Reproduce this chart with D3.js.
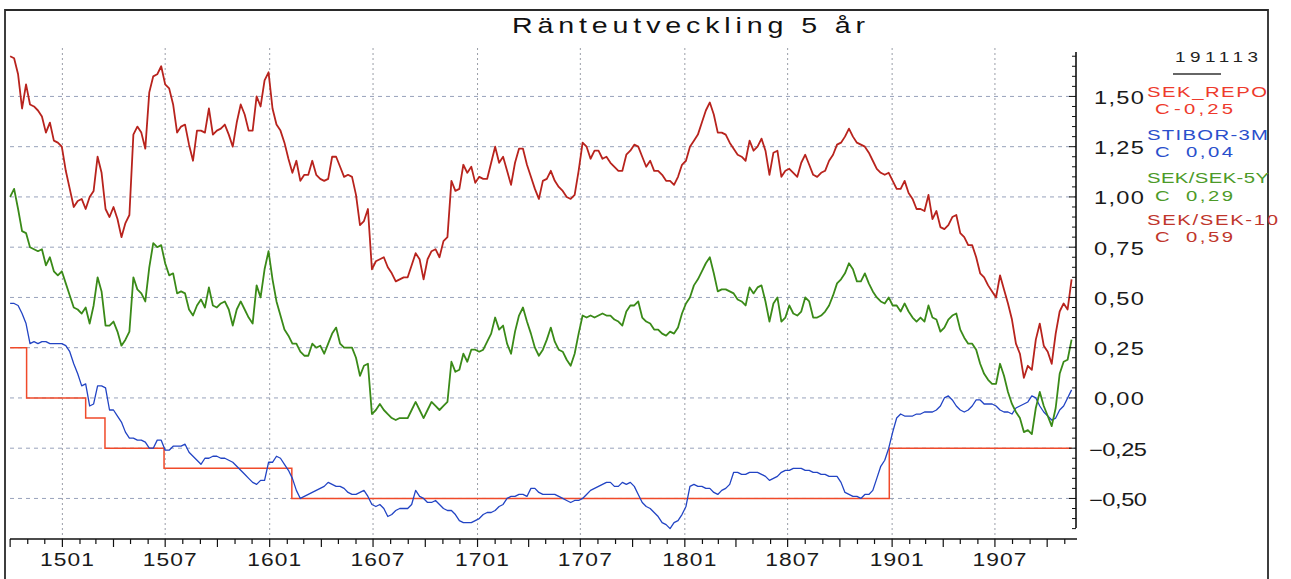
<!DOCTYPE html>
<html><head><meta charset="utf-8">
<script src="https://cdn.jsdelivr.net/npm/d3@7"></script>
<style>html,body{margin:0;padding:0;background:#fff;} svg{display:block;}</style>
</head><body>
<svg id="chart" width="1291" height="579"></svg>
<script>
// ---------------- data ----------------
const titleText = "Ränteutveckling 5 år";
const legendDate = "191113";
const seriesNames = ["SEK_REPO", "STIBOR-3M", "SEK/SEK-5Y", "SEK/SEK-10"];
const lastValues = ["-0,25", "0,04", "0,29", "0,59"];
const yTickValues = [-0.5, -0.25, 0, 0.25, 0.5, 0.75, 1, 1.25, 1.5];
const xTickLabels = ["1501", "1507", "1601", "1607", "1701", "1707", "1801", "1807", "1901", "1907"];
const axisStart = "2014-09-29", axisEnd = "2019-11-19";
const firstObs = "2014-10-01", lastObs = "2019-11-13";   // weekly observations (Wednesdays)

const repoDates  = ["2014-10-01", "2014-10-30", "2015-02-11", "2015-03-17", "2015-06-29", "2016-02-09", "2018-12-27", "2019-11-13"];
const repoValues = [0.25, 0.00, -0.10, -0.25, -0.35, -0.50, -0.25, -0.25];

const sek10 = [
 1.70,1.69,1.61,1.44,1.56,1.46,1.45,1.43,1.40,1.32,1.37,1.28,1.27,1.25,1.13,1.04,0.95,0.98,0.99,0.94,
 1.00,1.03,1.20,1.12,0.94,0.90,0.95,0.89,0.80,0.87,0.91,1.31,1.35,1.32,1.24,1.52,1.60,1.61,1.65,1.56,
 1.54,1.46,1.32,1.35,1.36,
 1.26,1.18,1.33,1.33,1.32,1.44,1.31,1.33,1.34,1.36,1.31,1.25,1.37,1.46,1.41,1.33,1.33,1.50,1.45,1.58,
 1.62,1.44,1.36,1.33,1.27,1.19,1.12,1.18,1.08,1.11,1.11,1.18,1.11,1.09,1.08,1.09,1.20,1.20,1.15,1.10,
 1.11,1.10,1.01,0.86,
 0.88,0.94,0.64,0.68,0.69,0.70,0.65,0.62,0.58,0.59,0.60,0.60,0.66,0.72,0.69,0.59,0.69,0.73,0.74,0.70,
 0.78,0.80,1.08,1.03,1.04,1.16,1.12,1.15,1.07,1.10,1.09,1.09,1.17,1.25,1.17,1.20,1.13,1.06,1.17,1.24,
 1.24,1.16,1.10,1.04,
 0.99,1.08,1.09,1.13,1.08,1.05,1.03,1.00,0.99,1.01,1.13,1.27,1.25,1.19,1.23,1.23,1.19,1.20,1.17,1.15,
 1.13,1.13,1.21,1.23,1.26,1.25,1.20,1.15,1.18,1.13,1.13,1.11,1.08,1.08,1.06,1.10,1.16,1.18,1.25,1.28,
 1.31,1.37,1.43,1.47,
 1.41,1.32,1.32,1.31,1.27,1.24,1.21,1.20,1.18,1.28,1.23,1.25,1.29,1.23,1.11,1.22,1.23,1.10,1.13,1.14,
 1.12,1.10,1.17,1.21,1.16,1.11,1.10,1.12,1.13,1.18,1.21,1.26,1.27,1.30,1.34,1.30,1.27,1.26,1.25,1.22,
 1.18,1.14,1.12,1.11,
 1.12,1.08,1.04,1.04,1.08,1.02,0.99,0.94,0.94,0.93,1.01,0.89,0.93,0.85,0.84,0.86,0.90,0.91,0.82,0.80,
 0.76,0.76,0.70,0.62,0.60,0.56,0.53,0.50,0.61,0.54,0.47,0.39,0.27,0.22,0.10,0.16,0.14,0.29,0.37,0.26,
 0.23,0.17,0.32,0.43,0.47,0.44,0.59
];

const sek5y = [
 1.00,1.04,0.94,0.83,0.82,0.75,0.74,0.73,0.74,0.66,0.70,0.63,0.61,0.63,0.57,0.51,0.45,0.44,0.42,0.45,
 0.37,0.46,0.60,0.53,0.36,0.36,0.38,0.33,0.26,0.29,0.33,0.60,0.54,0.52,0.48,0.65,0.77,0.75,0.76,0.67,
 0.61,0.62,0.52,0.53,0.52,
 0.44,0.41,0.46,0.49,0.45,0.55,0.46,0.45,0.47,0.48,0.44,0.36,0.44,0.48,0.44,0.40,0.37,0.56,0.50,0.64,
 0.73,0.59,0.48,0.41,0.34,0.31,0.27,0.27,0.23,0.21,0.21,0.27,0.25,0.26,0.22,0.27,0.32,0.35,0.27,0.25,
 0.25,0.25,0.20,0.11,
 0.16,0.17,-0.08,-0.06,-0.03,-0.06,-0.08,-0.10,-0.11,-0.10,-0.10,-0.10,-0.06,-0.02,-0.06,-0.10,-0.06,-0.02,-0.04,-0.06,
 -0.04,-0.02,0.18,0.13,0.14,0.22,0.18,0.24,0.24,0.23,0.24,0.28,0.32,0.40,0.34,0.36,0.27,0.22,0.33,0.41,
 0.45,0.38,0.32,0.25,
 0.21,0.24,0.29,0.35,0.28,0.24,0.23,0.19,0.16,0.22,0.32,0.41,0.40,0.41,0.40,0.41,0.42,0.41,0.41,0.39,
 0.38,0.36,0.43,0.46,0.46,0.48,0.40,0.38,0.37,0.34,0.34,0.32,0.31,0.33,0.32,0.35,0.42,0.47,0.50,0.56,
 0.59,0.63,0.67,0.70,
 0.62,0.53,0.54,0.54,0.53,0.52,0.49,0.48,0.46,0.55,0.52,0.55,0.56,0.48,0.38,0.47,0.50,0.38,0.40,0.46,
 0.42,0.41,0.43,0.50,0.48,0.40,0.40,0.41,0.43,0.46,0.51,0.57,0.59,0.62,0.67,0.64,0.58,0.58,0.62,0.57,
 0.53,0.50,0.48,0.47,
 0.50,0.46,0.46,0.43,0.47,0.43,0.40,0.38,0.40,0.38,0.46,0.40,0.39,0.33,0.35,0.39,0.41,0.42,0.34,0.30,
 0.27,0.27,0.24,0.17,0.12,0.09,0.07,0.07,0.17,0.11,0.03,-0.03,-0.07,-0.10,-0.17,-0.16,-0.18,-0.05,0.03,-0.04,
 -0.09,-0.14,-0.05,0.12,0.18,0.19,0.29
];

const stibor3m = [
 0.47,0.47,0.46,0.42,0.37,0.27,0.28,0.27,0.28,0.28,0.27,0.27,0.27,0.27,0.26,0.23,0.17,0.12,0.06,0.07,
 -0.04,-0.03,0.06,0.06,0.05,-0.06,-0.06,-0.09,-0.12,-0.17,-0.20,-0.20,-0.21,-0.21,-0.22,-0.25,-0.25,-0.21,-0.21,-0.26,
 -0.26,-0.24,-0.24,-0.24,-0.23,
 -0.27,-0.29,-0.31,-0.33,-0.30,-0.30,-0.29,-0.29,-0.30,-0.30,-0.31,-0.32,-0.34,-0.36,-0.38,-0.40,-0.42,-0.43,-0.41,-0.41,
 -0.32,-0.32,-0.29,-0.30,-0.33,-0.36,-0.40,-0.46,-0.50,-0.49,-0.48,-0.47,-0.46,-0.45,-0.44,-0.42,-0.43,-0.44,-0.44,-0.45,
 -0.47,-0.48,-0.48,-0.47,
 -0.46,-0.49,-0.53,-0.54,-0.53,-0.55,-0.59,-0.58,-0.56,-0.55,-0.55,-0.55,-0.53,-0.46,-0.49,-0.50,-0.52,-0.52,-0.51,-0.53,
 -0.55,-0.56,-0.56,-0.58,-0.61,-0.62,-0.62,-0.62,-0.61,-0.60,-0.58,-0.57,-0.57,-0.56,-0.54,-0.53,-0.50,-0.49,-0.49,-0.48,
 -0.48,-0.49,-0.45,-0.45,
 -0.47,-0.48,-0.48,-0.48,-0.48,-0.49,-0.50,-0.51,-0.52,-0.51,-0.51,-0.50,-0.48,-0.46,-0.45,-0.44,-0.43,-0.42,-0.42,-0.44,
 -0.44,-0.42,-0.43,-0.42,-0.44,-0.48,-0.52,-0.54,-0.55,-0.57,-0.59,-0.62,-0.63,-0.65,-0.62,-0.61,-0.58,-0.54,-0.44,-0.43,
 -0.44,-0.44,-0.45,-0.45,
 -0.47,-0.48,-0.46,-0.45,-0.43,-0.37,-0.37,-0.38,-0.38,-0.37,-0.37,-0.37,-0.38,-0.39,-0.41,-0.40,-0.39,-0.37,-0.36,-0.36,
 -0.35,-0.35,-0.35,-0.36,-0.36,-0.37,-0.37,-0.38,-0.38,-0.39,-0.39,-0.39,-0.42,-0.47,-0.48,-0.49,-0.49,-0.50,-0.48,-0.48,
 -0.46,-0.40,-0.34,-0.31,
 -0.25,-0.17,-0.10,-0.08,-0.09,-0.09,-0.09,-0.08,-0.08,-0.07,-0.07,-0.07,-0.06,-0.04,0.00,0.01,-0.01,-0.04,-0.06,-0.07,
 -0.06,-0.04,-0.01,-0.01,-0.03,-0.03,-0.03,-0.04,-0.06,-0.07,-0.07,-0.08,-0.05,-0.04,-0.03,-0.02,0.01,0.00,-0.04,-0.07,
 -0.09,-0.11,-0.10,-0.06,-0.04,0.00,0.04
];

const colors = {repo: "#f04a2a", stibor: "#2244c4", sek5y: "#3a8a18", sek10: "#b8231d"};
const legendColors = ["#ee3a2c", "#2a4fcc", "#4c9a28", "#c0352b"];

// ---------------- drawing ----------------
const parse = d3.timeParse("%Y-%m-%d");
const svg = d3.select("#chart");
const FONT = "'Liberation Sans', Arial, Helvetica, sans-serif";
svg.attr("font-family", FONT);

const x = d3.scaleTime().domain([parse(axisStart), parse(axisEnd)]).range([9, 1075]);
const y = d3.scaleLinear().domain([-0.647, 1.721]).range([528, 52]);

const weekDates = d3.timeWednesday.range(parse(firstObs), d3.timeDay.offset(parse(lastObs), 1));
const mk = vals => vals.map((v, i) => ({date: weekDates[i], value: v})).filter(d => d.date);

const xTickDates = xTickLabels.map(s => d3.timeParse("%y%m")(s));

// stretched text helper (the source uses wide, spaced lettering)
function sText(g, str, left, baseline, width, size, color, sx = 1.3) {
  const t = g.append("text")
    .attr("transform", `translate(${left},${baseline}) scale(${sx},1)`)
    .attr("font-size", size).attr("fill", color).text(str);
  if (width) t.attr("textLength", width / sx).attr("lengthAdjust", "spacing");
  return t;
}

// frame
const frame = svg.append("g").attr("fill", "none").attr("stroke", "#2a2a2a").attr("stroke-width", 1.8);
frame.append("path").attr("d", "M5,579 V10 H1268 V579");

// horizontal grid
svg.append("g").selectAll("line").data(yTickValues).join("line")
  .attr("x1", 10).attr("x2", 1076)
  .attr("y1", d => y(d)).attr("y2", d => y(d))
  .attr("stroke", "#98a2bb").attr("stroke-width", 1).attr("stroke-dasharray", "4,4");

// vertical grid
svg.append("g").selectAll("line").data(xTickDates).join("line")
  .attr("x1", d => x(d)).attr("x2", d => x(d))
  .attr("y1", 48).attr("y2", 539)
  .attr("stroke", "#9a9ea8").attr("stroke-width", 1).attr("stroke-dasharray", "2,3");

// series
const line = d3.line().x(d => x(d.date)).y(d => y(d.value));
const repoData = repoDates.map((d, i) => ({date: parse(d), value: repoValues[i]}));
svg.append("path").datum(repoData)
  .attr("d", d3.line().x(d => x(d.date)).y(d => y(d.value)).curve(d3.curveStepAfter))
  .attr("fill", "none").attr("stroke", colors.repo).attr("stroke-width", 1.5);
svg.append("path").datum(mk(stibor3m)).attr("d", line)
  .attr("fill", "none").attr("stroke", colors.stibor).attr("stroke-width", 1.3).attr("stroke-linejoin", "round");
svg.append("path").datum(mk(sek5y)).attr("d", line)
  .attr("fill", "none").attr("stroke", colors.sek5y).attr("stroke-width", 1.8).attr("stroke-linejoin", "round");
svg.append("path").datum(mk(sek10)).attr("d", line)
  .attr("fill", "none").attr("stroke", colors.sek10).attr("stroke-width", 1.8).attr("stroke-linejoin", "round");

// y axis (right)
const ya = svg.append("g").attr("stroke", "#111");
ya.append("line").attr("x1", 1076).attr("x2", 1076).attr("y1", 52).attr("y2", 528).attr("stroke-width", 1.6);
const minorY = d3.range(-13, 35).map(k => k * 0.05);
ya.selectAll("line.t").data(minorY).join("line").attr("class", "t")
  .attr("x1", (d, i) => (Math.abs(Math.round(d * 100)) % 25 === 0) ? 1069 : 1072).attr("x2", 1076)
  .attr("y1", d => y(d)).attr("y2", d => y(d)).attr("stroke-width", 1);

const fmt = v => d3.format(".2f")(v).replace(".", ",");
const yl = svg.append("g");
yTickValues.forEach(v => {
  const neg = v < 0;
  sText(yl, fmt(v), neg ? 1089 : 1094, y(v) + 7.5, neg ? 58 : 50, 17.5, "#1a1a1a", 1.35);
});

// x axis
const xa = svg.append("g").attr("stroke", "#111");
xa.append("line").attr("x1", 10).attr("x2", 1077).attr("y1", 539).attr("y2", 539).attr("stroke-width", 1.6);
const months = d3.timeMonth.range(parse("2014-10-01"), parse("2019-11-20"));
xa.selectAll("line.t").data(months).join("line").attr("class", "t")
  .attr("x1", d => x(d)).attr("x2", d => x(d))
  .attr("y1", 539).attr("y2", d => (d.getMonth() % 3 === 0) ? 547 : 544).attr("stroke-width", 1.2);
const xl = svg.append("g");
xTickDates.forEach((d, i) => {
  sText(xl, xTickLabels[i], x(d) + 4.5 - 27, 566, 54, 19, "#1a1a1a", 1.2);
});

// title
sText(svg, titleText, 512, 33, 353, 22, "#111", 1.3);

// legend
const lg = svg.append("g");
sText(lg, legendDate, 1175, 61.7, 83, 14, "#222", 1.35);
lg.append("line").attr("x1", 1173).attr("x2", 1221).attr("y1", 74).attr("y2", 74)
  .attr("stroke", "#333").attr("stroke-width", 1.5);
const nameBase = [96.7, 140, 183.3, 225];
const nameW = [120, 121, 122, 131];
seriesNames.forEach((n, i) => {
  sText(lg, n, 1147, nameBase[i], nameW[i], 14.5, legendColors[i], 1.4);
  const vb = nameBase[i] + 17.3;
  const sx = 1.4, left = 1155;
  const val = lastValues[i];
  const vw = val.length * 12 - 1;
  const vl = 1233 - vw;
  const t = lg.append("text").attr("transform", `translate(${left},${vb}) scale(${sx},1)`)
    .attr("font-size", 14.5).attr("fill", legendColors[i]);
  t.append("tspan").attr("x", 0).text("C ");
  t.append("tspan").attr("x", (vl - left) / sx).attr("textLength", vw / sx).attr("lengthAdjust", "spacing").text(val);
});
</script>
</body></html>
